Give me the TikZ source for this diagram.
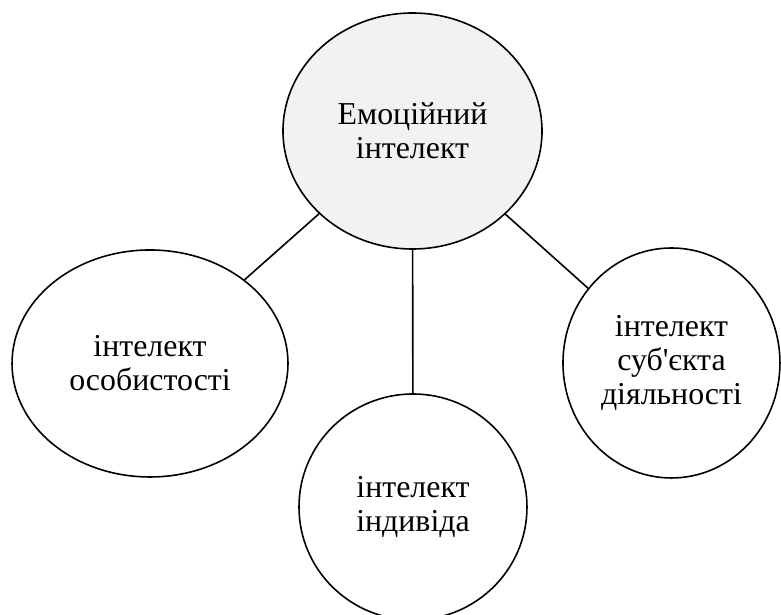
\documentclass[tikz,border=0pt]{standalone}
\usepackage{fontspec}
\newfontfamily\diagfont{Liberation Serif}
\usepackage{tikz}
\usetikzlibrary{shapes.geometric}

\tikzset{
        bubble/.style={ellipse, draw, line width=1.2pt, inner sep=0pt, align=center,
                font=\diagfont\fontsize{24}{25.5}\selectfont},
        link/.style={line width=1.2pt}
}

\begin{document}
\begin{tikzpicture}
        \useasboundingbox (0,0) rectangle (20.664,-16.272);
        \node[bubble, fill={rgb,255:red,242;green,242;blue,242}, minimum width=6.853cm, minimum height=6.244cm] (emo) at (10.914,-3.466) {Емоційний\\інтелект};
        \node[bubble, minimum width=7.302cm, minimum height=6.006cm] (osob) at (3.969,-9.617) {інтелект\\особистості};
        \node[bubble, minimum width=6.032cm, minimum height=5.980cm] (indyv) at (10.927,-13.414) {інтелект\\індивіда};
        \node[bubble, minimum width=5.741cm, minimum height=6.085cm] (subj) at (17.766,-9.604) {інтелект\\суб'єкта\\діяльності};
        \draw[link] (emo) -- (osob);
        \draw[link] (emo) -- (indyv);
        \draw[link] (emo) -- (subj);
\end{tikzpicture}
\end{document}
